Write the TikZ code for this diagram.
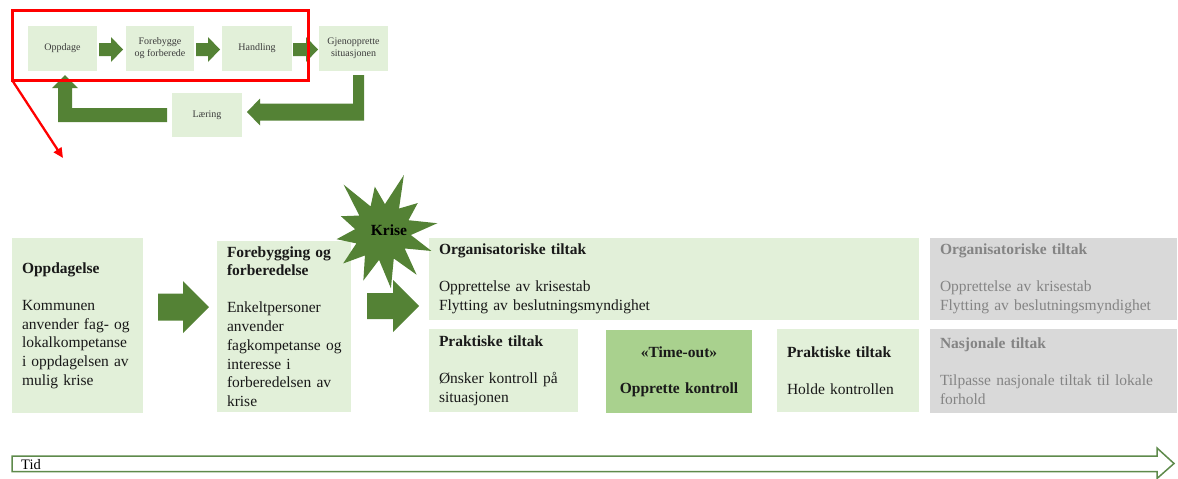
\documentclass[tikz,border=0pt]{standalone}
\usepackage{fontspec}
\setmainfont{Liberation Serif}
\usetikzlibrary{arrows.meta}
\definecolor{lightgreen}{HTML}{E2F0D9}
\definecolor{timegreen}{HTML}{A9D18E}
\definecolor{arrowgreen}{HTML}{548235}
\definecolor{lineGreen}{HTML}{5E8A4B}
\definecolor{grayfill}{HTML}{D9D9D9}
\definecolor{graytext}{HTML}{848484}
\definecolor{smalltext}{HTML}{3C3C3C}
\newcommand\bodyfont{\fontsize{15.5}{18.7}\selectfont}
\newcommand\smallfont{\fontsize{10}{12}\selectfont}
\newcommand\rarrow[6]{%
  \fill[arrowgreen] (#1,#3-#4) -- (#2-#6,#3-#4) -- (#2-#6,#3-#5) -- (#2,#3)
    -- (#2-#6,#3+#5) -- (#2-#6,#3+#4) -- (#1,#3+#4) -- cycle;}
\begin{document}
\begin{tikzpicture}[x=1pt,y=-1pt,
  smallbox/.style={fill=lightgreen, anchor=north west, inner sep=0pt, outer sep=0pt,
    align=center, font=\smallfont, text=smalltext, minimum height=45pt},
  bigbox/.style={fill=lightgreen, anchor=north west, inner xsep=10pt, inner ysep=0pt,
    outer sep=0pt, align=left, font=\bodyfont, text=black!90},
  graybox/.style={bigbox, fill=grayfill, text=graytext},
  timebox/.style={bigbox, fill=timegreen, align=center}]
\useasboundingbox (0,0) rectangle (1178,479);

% ---- top cycle ----
\node[smallbox, minimum width=69pt] (oppdage) at (28,26) {Oppdage};
\node[smallbox, minimum width=68pt] (forebygge) at (126,26) {Forebygge\\og forberede};
\node[smallbox, minimum width=70pt] (handling) at (222,26) {Handling};
\node[smallbox, minimum width=69pt] (gjenopp) at (319,26) {Gjenopprette\\situasjonen};
\node[smallbox, minimum width=70pt, minimum height=44pt] (laering) at (172,93) {Læring};

\rarrow{99}{123}{49.5}{6.5}{12.5}{12}
\rarrow{196}{220}{49.5}{6.5}{12.5}{12}
\rarrow{293}{318}{49.5}{6.5}{12.5}{12}

% bent arrow Gjenopprette -> Laering
\fill[arrowgreen] (353,75) -- (364,75) -- (364,120.5) -- (260,120.5) -- (260,125.5)
  -- (247,112) -- (260,98.5) -- (260,103.5) -- (353,103.5) -- cycle;
% bent arrow Laering -> Oppdage
\fill[arrowgreen] (167,108) -- (167,122) -- (58,122) -- (58,88) -- (52,88)
  -- (65,75) -- (78,88) -- (72,88) -- (72,108) -- cycle;

% red frame and pointer
\draw[red, line width=3pt] (12,10) rectangle (308,80);
\coordinate (redcorner) at (12,80);
\coordinate (redtip) at (63,158);
\draw[red, line width=2.3pt, -{Triangle[length=10pt,width=9pt]}] (redcorner) -- (redtip);

% ---- main phases ----
\node[bigbox, text width=111pt, minimum height=175pt] (oppdagelse) at (12,238)
  {\textbf{Oppdagelse}\\[18.3pt]Kommunen\\anvender fag- og\\lokalkompetanse\\i oppdagelsen av\\mulig krise};
\node[bigbox, inner xsep=6pt, text width=122pt, minimum height=171pt] (forebygging) at (217,241)
  {\hspace*{4pt}\textbf{Forebygging og}\\\hspace*{4pt}\textbf{forberedelse}\\[18.3pt]\hspace*{4pt}Enkeltpersoner\\\hspace*{4pt}anvender\\\hspace*{4pt}fagkompetanse og\\\hspace*{4pt}interesse i\\\hspace*{4pt}forberedelsen av\\\hspace*{4pt}krise};

\rarrow{158}{209}{307}{13.5}{26}{26}
\rarrow{367}{419}{306}{13}{26}{26}

\node[bigbox, text width=470pt, minimum height=82pt] (org) at (429,238)
  {\textbf{Organisatoriske tiltak}\\[18.3pt]Opprettelse av krisestab\\Flytting av beslutningsmyndighet};
\node[bigbox, text width=129pt, minimum height=83pt] (prakt1) at (429,329)
  {\textbf{Praktiske tiltak}\\[18.3pt]Ønsker kontroll på\\situasjonen};
\node[timebox, text width=126pt, minimum height=83pt] (timeout) at (606,330)
  {\textbf{«Time-out»}\\[17pt]\textbf{Opprette kontroll}};
\node[bigbox, text width=122pt, minimum height=83pt] (prakt2) at (777,329)
  {\textbf{Praktiske tiltak}\\[18.3pt]Holde kontrollen};
\node[graybox, text width=227pt, minimum height=82pt] (gray1) at (930,238)
  {\textbf{Organisatoriske tiltak}\\[18.3pt]Opprettelse av krisestab\\Flytting av beslutningsmyndighet};
\node[graybox, text width=227pt, minimum height=84pt] (gray2) at (930,329)
  {\textbf{Nasjonale tiltak}\\[18.3pt]Tilpasse nasjonale tiltak til lokale\\forhold};

% ---- Krise star ----
\fill[arrowgreen] ({382+56*cos(9)},{232-56*sin(9)})
  \foreach \a/\r in {24/29,39/46,54/29,69/61,84/28,99/46,114/28,129/61,144/28,159/44,174/27,
     189/46,204/28,219/50,234/29,249/52,264/28,279/57,294/29,309/55,324/28,339/53,354/29}
  { -- ({382+\r*cos(\a)},{232-\r*sin(\a)}) } -- cycle;
\node[font=\bodyfont\bfseries, inner sep=0pt] (krise) at (389,230) {Krise};

% ---- time line ----
\draw[lineGreen, line width=1.5pt, fill=white] (12,456) -- (1157,456) -- (1157,448)
  -- (1174,463.5) -- (1157,478.5) -- (1157,471.5) -- (12,471.5) -- cycle;
\node[anchor=west, font=\fontsize{14.5}{16}\selectfont, inner sep=0pt] (tid) at (21,464.5) {Tid};
\end{tikzpicture}
\end{document}
